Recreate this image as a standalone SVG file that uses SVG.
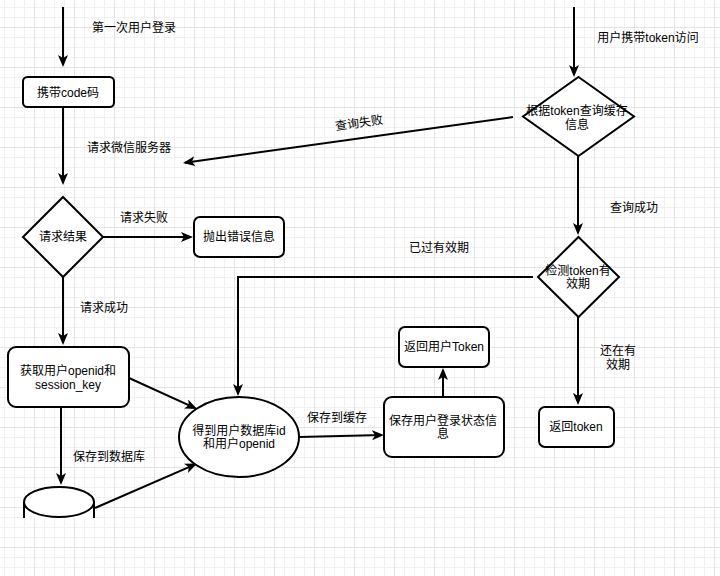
<svg xmlns="http://www.w3.org/2000/svg" width="720" height="576" viewBox="0 0 720 576">
<style>
text{font-family:"Liberation Sans","Noto Sans CJK SC",sans-serif;font-size:12px;fill:#000;text-anchor:middle;dominant-baseline:central}
.shape{fill:#fff;stroke:#000;stroke-width:2}
.edge{fill:none;stroke:#000;stroke-width:2;marker-end:url(#arr)}
.line{fill:none;stroke:#000;stroke-width:2}
</style>
<defs>
<pattern id="minor" patternUnits="userSpaceOnUse" x="4" y="7" width="10" height="10">
<rect x="0" y="0" width="1" height="10" fill="#f1f1f1"/>
<rect x="0" y="0" width="10" height="1" fill="#f1f1f1"/>
</pattern>
<pattern id="major" patternUnits="userSpaceOnUse" x="34" y="27" width="40" height="40">
<rect x="0" y="0" width="1" height="40" fill="#e3e3e3"/>
<rect x="0" y="0" width="40" height="1" fill="#e3e3e3"/>
</pattern>
<marker id="arr" viewBox="0 0 12 10" refX="10" refY="5" markerWidth="12" markerHeight="10" markerUnits="userSpaceOnUse" orient="auto">
<path d="M0,0 L12,5 L0,10 L3,5 Z" fill="#000"/>
</marker>
<clipPath id="cylclip"><rect x="0" y="470" width="120" height="48"/></clipPath>
</defs>
<rect width="720" height="576" fill="#fff"/>
<rect width="720" height="576" fill="url(#minor)"/>
<rect width="720" height="576" fill="url(#major)"/>

<g id="connectors">
<path class="edge" d="M63,7 L63,65"/>
<path class="edge" d="M63,107 L63,183"/>
<path class="edge" d="M103,237 L191,237"/>
<path class="edge" d="M63,277 L63,343"/>
<path class="edge" d="M129,378 L195.2,408.2"/>
<path class="edge" d="M61,407 L61,483"/>
<path class="edge" d="M95,508 L195.2,464.3"/>
<path class="edge" d="M533,277 L238,277 L238,394"/>
<path class="edge" d="M299,437 L382,435"/>
<path class="edge" d="M443,397 L443,370"/>
<path class="edge" d="M574,7 L574,75"/>
<path class="edge" d="M513,117 L185,162.7"/>
<path class="edge" d="M578,156 L578,233"/>
<path class="edge" d="M578,317 L578,403"/>
<text x="134" y="28">第一次用户登录</text>
<text x="129" y="148">请求微信服务器</text>
<text x="144" y="218">请求失败</text>
<text x="104" y="308">请求成功</text>
<text x="109" y="457">保存到数据库</text>
<text x="337" y="418">保存到缓存</text>
<text x="439" y="248">已过有效期</text>
<text x="648" y="38">用户携带token访问</text>
<text x="634" y="208">查询成功</text>
<text x="618" y="351">还在有</text>
<text x="618" y="365">效期</text>
<text x="359" y="123" transform="rotate(-8 359 123)">查询失败</text>
</g>

<g id="node-code">
<rect class="shape" x="23" y="77" width="91" height="30" rx="4.5"/>
<text x="68" y="93">携带code码</text>
</g>
<g id="node-result">
<path class="shape" d="M63,197 L103,237 L63,277 L23,237 Z"/>
<text x="63" y="237">请求结果</text>
</g>
<g id="node-error">
<rect class="shape" x="194" y="217" width="90" height="40" rx="6"/>
<text x="239" y="237">抛出错误信息</text>
</g>
<g id="node-openid">
<rect class="shape" x="8" y="347" width="121" height="60" rx="8"/>
<text x="68" y="371">获取用户openid和</text>
<text x="68" y="385">session_key</text>
</g>
<g id="node-db">
<g clip-path="url(#cylclip)">
<path class="shape" d="M24,502 A35,15 0 0,1 94,502 L94,530 L24,530 Z"/>
<path class="line" d="M24,502 A35,15 0 0,0 94,502"/>
</g>
</g>
<g id="node-userid">
<ellipse class="shape" cx="239" cy="437" rx="60" ry="40"/>
<text x="239" y="431">得到用户数据库id</text>
<text x="239" y="444">和用户openid</text>
</g>
<g id="node-save">
<rect class="shape" x="384" y="397" width="120" height="60" rx="8"/>
<text x="443" y="421">保存用户登录状态信</text>
<text x="443" y="434">息</text>
</g>
<g id="node-return-token-user">
<rect class="shape" x="399" y="327" width="90" height="40" rx="6"/>
<text x="444" y="347">返回用户Token</text>
</g>
<g id="node-query">
<path class="shape" d="M578.5,77 L634,116.5 L578.5,156 L523,116.5 Z"/>
<text x="577" y="111">根据token查询缓存</text>
<text x="577" y="125">信息</text>
</g>
<g id="node-check">
<path class="shape" d="M578.5,237 L619,277 L578.5,317 L538,277 Z"/>
<text x="578" y="271">检测token有</text>
<text x="578" y="284">效期</text>
</g>
<g id="node-return-token">
<rect class="shape" x="539" y="407" width="75" height="40" rx="6"/>
<text x="576" y="427">返回token</text>
</g>
</svg>
